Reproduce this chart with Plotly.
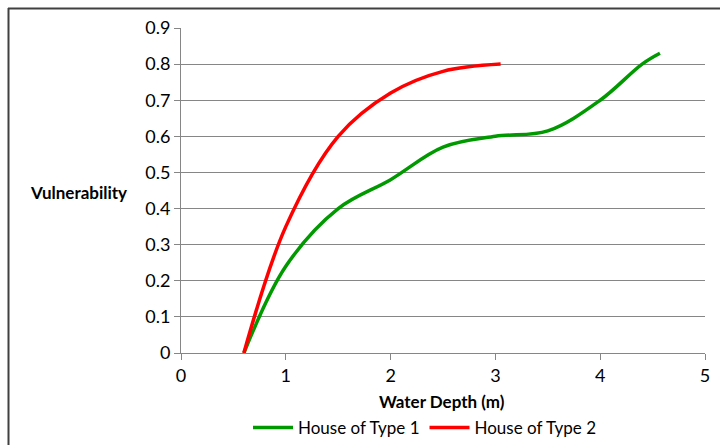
import plotly.graph_objects as go

# Data
depth_type1 = [0.6, 1.0, 1.5, 2.0, 2.5, 3.0, 3.5, 4.0, 4.4, 4.57]
vuln_type1 = [0.0, 0.24, 0.40, 0.48, 0.57, 0.60, 0.615, 0.70, 0.80, 0.83]

depth_type2 = [0.6, 1.0, 1.5, 2.0, 2.5, 3.05]
vuln_type2 = [0.0, 0.35, 0.60, 0.72, 0.78, 0.80]

series_names = ["House of Type 1", "House of Type 2"]
y_ticks = [0, 0.1, 0.2, 0.3, 0.4, 0.5, 0.6, 0.7, 0.8, 0.9]
y_tick_labels = ["0", "0.1", "0.2", "0.3", "0.4", "0.5", "0.6", "0.7", "0.8", "0.9"]
x_ticks = [0, 1, 2, 3, 4, 5]

FONT = "Lato, 'Open Sans', sans-serif"

fig = go.Figure()
fig.add_trace(go.Scatter(x=depth_type1, y=vuln_type1, mode="lines", name=series_names[0],
                         line=dict(color="#009A00", width=3.5, shape="spline", smoothing=1.0)))
fig.add_trace(go.Scatter(x=depth_type2, y=vuln_type2, mode="lines", name=series_names[1],
                         line=dict(color="#FF0000", width=3.5, shape="spline", smoothing=1.0)))

L, R, T, B = 181, 15, 28, 92
W, H = 720, 445
pw, ph = W - L - R, H - T - B

def px(xp):
    return (xp - L) / pw

def py(yp):
    return (H - B - yp) / ph

fig.update_layout(
    width=W, height=H,
    margin=dict(l=L, r=R, t=T, b=B, autoexpand=False),
    paper_bgcolor="white", plot_bgcolor="white",
    font=dict(family=FONT, size=17, color="#000000"),
    showlegend=True,
    legend=dict(orientation="h", x=px(425), xanchor="center", y=py(428), yanchor="middle",
                font=dict(family=FONT, size=17), itemwidth=40, tracegroupgap=0,
                bgcolor="rgba(0,0,0,0)"),
    xaxis=dict(range=[0, 5], tickvals=x_ticks, showgrid=False, zeroline=False,
               showline=True, linecolor="#868686", linewidth=1,
               ticks="outside", ticklen=6, tickcolor="#868686",
               tickfont=dict(family=FONT, size=18), fixedrange=True),
    yaxis=dict(range=[0, 0.9], tickvals=y_ticks, ticktext=y_tick_labels,
               showgrid=True, gridcolor="#868686", gridwidth=1, zeroline=False,
               showline=True, linecolor="#868686", linewidth=1,
               ticks="outside", ticklen=6, tickcolor="#868686",
               tickfont=dict(family=FONT, size=18), fixedrange=True),
    annotations=[
        dict(text="<b>Water Depth (m)</b>", xref="paper", yref="paper",
             x=px(442), y=py(401), xanchor="center", yanchor="middle", showarrow=False,
             font=dict(family=FONT, size=17)),
        dict(text="<b>Vulnerability</b>", xref="paper", yref="paper",
             x=px(129), y=py(192), xanchor="right", yanchor="middle", showarrow=False,
             font=dict(family=FONT, size=17)),
    ],
    shapes=[
        dict(type="line", xref="paper", yref="paper", x0=px(8), x1=px(722), y0=py(8.5), y1=py(8.5),
             line=dict(color="#404040", width=2)),
        dict(type="line", xref="paper", yref="paper", x0=px(8.5), x1=px(8.5), y0=py(8), y1=py(447),
             line=dict(color="#404040", width=2)),
    ],
)

fig.write_html("out.html")
